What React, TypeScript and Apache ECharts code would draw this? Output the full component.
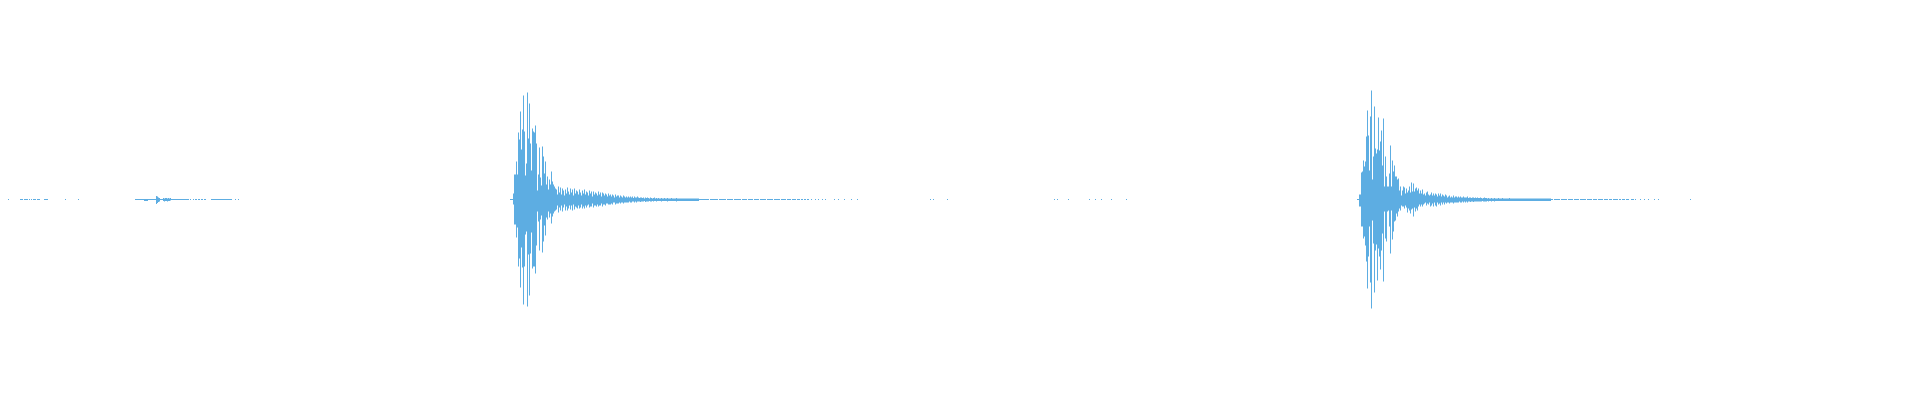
import React, { useEffect, useRef } from "react";
import * as echarts from "echarts";

// One bar per sample column; amplitude units span -191.5..191.5 on the value axis.
const SAMPLE_COUNT = 1904;
const QUIET = 0.5;
const WAVE_COLOR = "#5DADE2";

// Near-silent samples (tiny amplitude), as [first, last] sample indices.
const quietRuns: number[][] = [
  [0, 0], [12, 14], [16, 19], [21, 21], [23, 23], [25, 27], [29, 31], [36, 39], [57, 57], [70, 70],
  [127, 131], [165, 180], [182, 182], [185, 185], [187, 188], [190, 191], [193, 194], [196, 197],
  [203, 223], [227, 227], [230, 230],
  [693, 700], [702, 709], [711, 717], [719, 724], [726, 732], [734, 738], [740, 744], [746, 750],
  [752, 757], [759, 764], [766, 771], [773, 777], [779, 782], [784, 787], [789, 791], [793, 794],
  [796, 797], [799, 800], [803, 803], [807, 807], [810, 810], [814, 814], [817, 817], [826, 826],
  [830, 830], [836, 836], [843, 843], [849, 849], [922, 922], [925, 925], [939, 939],
  [1046, 1046], [1049, 1049], [1060, 1060], [1081, 1081], [1087, 1087], [1093, 1093], [1103, 1103],
  [1118, 1118],
  [1546, 1551], [1553, 1558], [1560, 1564], [1566, 1570], [1572, 1577], [1579, 1583], [1585, 1588],
  [1590, 1594], [1596, 1599], [1601, 1603], [1605, 1609], [1611, 1612], [1614, 1616], [1618, 1620],
  [1623, 1625], [1627, 1627], [1632, 1632], [1636, 1636], [1640, 1640], [1646, 1646], [1650, 1650],
  [1682, 1682],
];

// Small noise blip near the start.
const leftNoiseStart = 132;
const leftNoiseTop = [
  0.5, 0.5, 0.5, 0.5, 0.5, 0.5, 0.5, 0.5, 0.5, 0.5, 0.5, 0.5, 0.5, 0.5, 0.5, 0.5,
  3.5, 3, 2, 1.5, 0.5, 0.5, 0.5, 1.5, 1, 1.5, 1.5, 1, 1.5, 1, 1.5, 0.5, 0.5,
];
const leftNoiseBottom = [
  0.5, 0.5, 0.5, 0.5, 1.5, 1.5, 1.5, 1.5, 0.5, 0.5, 0.5, 0.5, 0.5, 0.5, 0.5, 0.5,
  4.5, 3.5, 2.5, 2, 0.5, 0.5, 0.5, 1.5, 2, 1.5, 1.5, 2, 1.5, 1.5, 1, 0.5, 0.5,
];

// First strike.
const burst1Start = 502;
const burst1Top = [
  0.5, 0.5, 0.5, 6, 25, 25, 38, 25, 67, 60, 88, 50, 70, 104, 68, 24, 36, 107, 61, 96,
  56, 29, 71, 68, 67, 74, 56, 9, 25, 52, 22, 14, 53, 43, 26, 38, 15, 23, 10, 20,
  15, 28, 18, 15, 13, 11, 10, 5,
  13, 7, 12, 5, 11, 9, 4, 10, 6, 12,
  8, 5, 11, 7, 10, 4, 11, 6, 9, 8,
  5, 10, 7, 4, 9, 6, 10, 5, 8, 7,
  4, 9, 6, 8, 3, 8, 5, 7, 6, 4,
  8, 5, 7, 3, 7, 6, 4, 6, 5, 3,
  6, 4, 5, 3, 5, 4, 2, 5, 3, 4,
  4, 2, 4, 3, 2, 4, 3, 2, 3, 2,
  3, 2, 3, 2, 3, 1.5, 3, 2, 2, 3,
  2, 1.5, 2, 2, 1.5, 2, 1, 2, 1.5, 2,
  1.5, 1, 2, 1.5, 1, 1.5, 2, 1, 1.5, 1,
  1.5, 1, 1, 1.5, 1, 1, 1.5, 1, 1, 1.5,
  1, 1, 1, 1.5, 1, 1, 1, 1, 1.5, 1,
  1, 1, 1, 1, 1, 1, 1, 1, 1, 1,
  1, 1, 1, 1, 1, 1, 1, 1, 1, 1,
  1, 0.5, 0.5,
];
const burst1Bottom = [
  0.5, 0.5, 0.5, 5, 25, 25, 38, 28, 67, 59, 88, 48, 68, 105, 67, 35, 32, 107, 55, 96,
  54, 33, 69, 67, 67, 74, 46, 12, 22, 51, 20, 16, 53, 42, 26, 36, 18, 20, 12, 18,
  14, 24, 17, 14, 12, 11, 10, 6,
  13, 8, 11, 6, 12, 8, 5, 11, 7, 11,
  9, 6, 10, 6, 11, 5, 10, 7, 8, 9,
  6, 9, 8, 5, 9, 7, 9, 6, 8, 6,
  5, 8, 7, 7, 4, 8, 6, 6, 7, 5,
  7, 6, 6, 4, 7, 5, 5, 6, 4, 4,
  5, 5, 5, 4, 5, 3, 3, 5, 4, 4,
  4, 3, 4, 3, 3, 4, 3, 3, 3, 3,
  3, 2, 3, 3, 2, 2, 3, 2, 3, 2,
  2, 2, 2.5, 2, 2, 2, 1.5, 2.5, 2, 2,
  2, 1.5, 2, 2, 1.5, 2, 1.5, 1.5, 2, 1.5,
  1.5, 1.5, 1.5, 2, 1.5, 1.5, 1.5, 1.5, 1.5, 2,
  1.5, 1.5, 1.5, 1.5, 1.5, 1.5, 1.5, 1.5, 2, 1.5,
  1.5, 1.5, 1.5, 1.5, 1.5, 1.5, 1.5, 1.5, 1.5, 1.5,
  1.5, 1.5, 1.5, 1.5, 1.5, 1.5, 1.5, 1.5, 1.5, 1.5,
  1.5, 0.5, 0.5,
];

// Second strike.
const burst2Start = 1349;
const burst2Top = [
  0.5, 0.5, 5, 5, 27, 28, 39, 33, 38, 63,
  89, 64, 29, 83, 109, 20, 43, 93, 51, 46,
  50, 82, 49, 58, 69, 34, 81, 13, 43, 23,
  13, 13, 26, 54, 13, 39, 28, 34, 23, 23,
  20, 21, 9, 13, 4, 9, 13, 12, 6, 11,
  7, 9, 13, 7, 17, 8, 16, 8, 11, 12,
  9, 11, 6, 9, 6, 10, 5, 6, 4, 7,
  8, 5, 4, 5, 7, 4, 6, 4, 6, 5,
  3, 6, 4, 6, 3, 5, 4, 3, 5,
  4, 2, 3, 4, 2, 3, 2, 4, 2, 3,
  3, 2, 3, 2, 3, 2, 2, 3, 2, 2,
  2, 3, 1.5, 2, 2, 1.5, 2, 2, 1.5, 2,
  1.5, 2, 1.5, 1.5, 2, 1.5, 1, 1.5, 2, 1.5,
  1.5, 1, 1.5, 1, 1, 1.5, 1, 1, 1.5, 1,
  1, 1, 1.5, 1, 1, 1, 1.5, 1, 1, 1,
  1, 1, 1, 1.5, 1, 1, 1, 1, 1, 1,
  1, 1, 1, 1, 1, 1, 1, 1, 1, 1,
  1, 1, 1, 1, 1, 1, 1, 1, 1, 1,
  1, 1, 1, 1, 1, 1, 1, 1, 1, 1,
  1, 1, 1, 1, 1, 0.5, 0.5,
];
const burst2Bottom = [
  0.5, 0.5, 7, 7, 27, 27, 39, 37, 46, 62,
  89, 57, 27, 83, 109, 21, 44, 93, 51, 45,
  81, 49, 57, 70, 51, 34, 82, 12, 39, 42,
  12, 11, 27, 54, 11, 40, 32, 22, 21, 14,
  17, 12, 9, 11, 6, 7, 7, 9, 6, 8,
  13, 9, 11, 14, 10, 9, 17, 8, 12, 9,
  11, 7, 5, 7, 5, 7, 5, 4, 3, 6,
  4, 5, 3, 7, 6, 4, 7, 3, 6, 7,
  3, 5, 4, 6, 3, 5, 3, 5, 3,
  4, 3, 3, 4, 3, 3, 3, 4, 3, 3,
  3, 3, 3, 2, 3, 3, 2, 3, 2, 3,
  2, 3, 2, 2, 2.5, 2, 2, 2.5, 2, 2,
  2, 2, 2, 2, 2, 2, 1.5, 2, 2, 2,
  2, 1.5, 2, 1.5, 1.5, 2, 1.5, 1.5, 2, 1.5,
  1.5, 1.5, 1.5, 1.5, 1.5, 1.5, 1.5, 1.5, 1.5, 1.5,
  1.5, 1.5, 1.5, 1.5, 1.5, 1.5, 1.5, 1.5, 1.5, 1.5,
  1.5, 1.5, 1.5, 1.5, 1.5, 1.5, 1.5, 1.5, 1.5, 1.5,
  1.5, 1.5, 1.5, 1.5, 1.5, 1.5, 1.5, 1.5, 1.5, 1.5,
  1.5, 1.5, 1.5, 1.5, 1.5, 1.5, 1.5, 1.5, 1.5, 1.5,
  1.5, 1.5, 1.5, 1.5, 1.5, 0.5, 0.5,
];

function buildWave() {
  const top: number[] = new Array(SAMPLE_COUNT).fill(0);
  const bottom: number[] = new Array(SAMPLE_COUNT).fill(0);
  quietRuns.forEach(([s, e]) => {
    for (let i = s; i <= e; i++) {
      top[i] = QUIET;
      bottom[i] = QUIET;
    }
  });
  const put = (start: number, t: number[], b: number[]) => {
    t.forEach((v, i) => {
      top[start + i] = v;
      bottom[start + i] = b[i];
    });
  };
  put(leftNoiseStart, leftNoiseTop, leftNoiseBottom);
  put(burst1Start, burst1Top, burst1Bottom);
  put(burst2Start, burst2Top, burst2Bottom);
  return { top, bottom };
}

export default function App() {
  const ref = useRef<HTMLDivElement>(null);
  useEffect(() => {
    if (!ref.current) return;
    const chart = echarts.init(ref.current, undefined, { renderer: "svg" });
    const { top, bottom } = buildWave();
    const categories = top.map((_, i) => String(i));
    const active = top.map((t, i) => t > 0 || bottom[i] > 0);
    chart.setOption({
      animation: false,
      grid: { left: 0, right: 0, top: 0, bottom: 0 },
      xAxis: {
        type: "category",
        data: categories,
        show: false,
        boundaryGap: true,
      },
      yAxis: {
        type: "value",
        min: -191.5,
        max: 191.5,
        show: false,
        splitLine: { show: false },
      },
      series: [
        {
          name: "base",
          type: "bar",
          stack: "wave",
          stackStrategy: "all",
          silent: true,
          barWidth: 1,
          barCategoryGap: 0,
          itemStyle: { color: "transparent" },
          data: bottom.map((b, i) => (active[i] ? -b : "-")),
        },
        {
          name: "amplitude",
          type: "bar",
          stack: "wave",
          stackStrategy: "all",
          barWidth: 1,
          barCategoryGap: 0,
          itemStyle: { color: WAVE_COLOR },
          data: top.map((t, i) => (active[i] ? t + bottom[i] : "-")),
        },
      ],
    });
    const onResize = () => chart.resize();
    window.addEventListener("resize", onResize);
    return () => {
      window.removeEventListener("resize", onResize);
      chart.dispose();
    };
  }, []);
  return <div ref={ref} style={{ width: "100%", height: 383 }} />;
}
